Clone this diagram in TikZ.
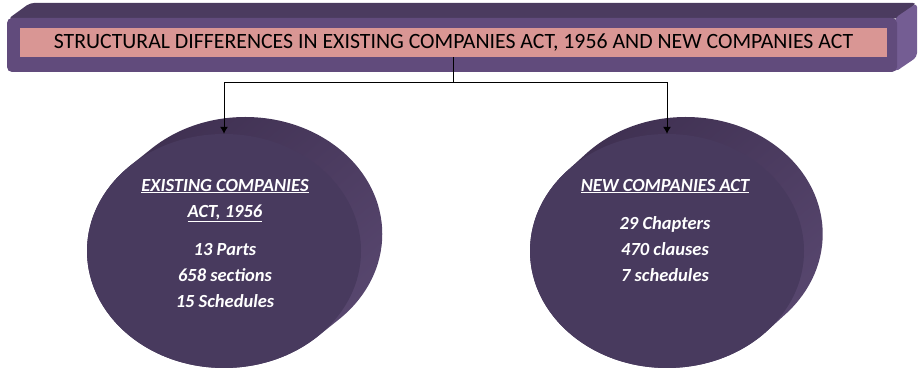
\documentclass[tikz,border=0pt]{standalone}
\usepackage{fontspec}
\setmainfont{Carlito}
\usetikzlibrary{positioning,shapes.geometric,arrows.meta}
\definecolor{bartop}{HTML}{4B3B5F}
\definecolor{barfront}{HTML}{614B7C}
\definecolor{barside}{HTML}{745D93}
\definecolor{titlepink}{HTML}{D99694}
\definecolor{discfront}{HTML}{483A5E}
\definecolor{rimdark}{HTML}{3F3051}
\definecolor{rimlight}{HTML}{58476F}
\tikzset{
	titlebox/.style={fill=titlepink,minimum width=867pt,minimum height=29pt,inner sep=0pt,font=\fontsize{21.8}{24}\selectfont},
	actdisc/.style={ellipse,fill=discfront,minimum width=274pt,minimum height=234pt,inner sep=0pt},
	discrim/.style={top color=rimdark,bottom color=rimlight,shading angle=40},
	acttext/.style={text=white,align=center,inner sep=0pt,font=\fontsize{18.5}{26}\selectfont\bfseries\itshape},
	link/.style={-{Latex[length=7pt,width=8pt]},line width=1pt}
}
\begin{document}
\begin{tikzpicture}[x=1pt,y=-1pt]
		\useasboundingbox (0,0) rectangle (924,387);
		\fill[bartop,rounded corners=4pt] (8,19)--(30,3)--(917,3)--(896,19)--cycle;
		\fill[barside,rounded corners=4pt] (895,18)--(917,3)--(917,57)--(895,72)--cycle;
		\fill[barfront,rounded corners=5pt] (7,18) rectangle (897,72);
		\node[titlebox] (title) at (453.5,42.5) {STRUCTURAL DIFFERENCES IN EXISTING COMPANIES ACT, 1956 AND NEW COMPANIES ACT};
		\shade[discrim] (224,251) ellipse (137pt and 117pt) \foreach \k in {1,...,17} {(224+1.25*\k,251-\k) ellipse (137pt and 117pt)};
		\shade[discrim] (667,251) ellipse (137pt and 117pt) \foreach \k in {1,...,17} {(667+1.1*\k,251-\k) ellipse (137pt and 117pt)};
		\node[actdisc] (oldact) at (224,251) {};
		\node[actdisc] (newact) at (667,251) {};
		\node[acttext,below=45pt of oldact.north,xshift=1pt] (oldtext) {\underline{EXISTING COMPANIES}\\\underline{ACT, 1956}\\[12pt]13 Parts\\658 sections\\15 Schedules};
		\node[acttext,below=45pt of newact.north,xshift=-2pt] (newtext) {\underline{NEW COMPANIES ACT}\\[12pt]29 Chapters\\470 clauses\\7 schedules};
		\draw[line width=1pt] (title.south)--(title.south |- 0,83) coordinate (fork);
		\draw[link] (fork) -| (oldact.north);
		\draw[link] (fork) -| (newact.north);
\end{tikzpicture}
\end{document}
